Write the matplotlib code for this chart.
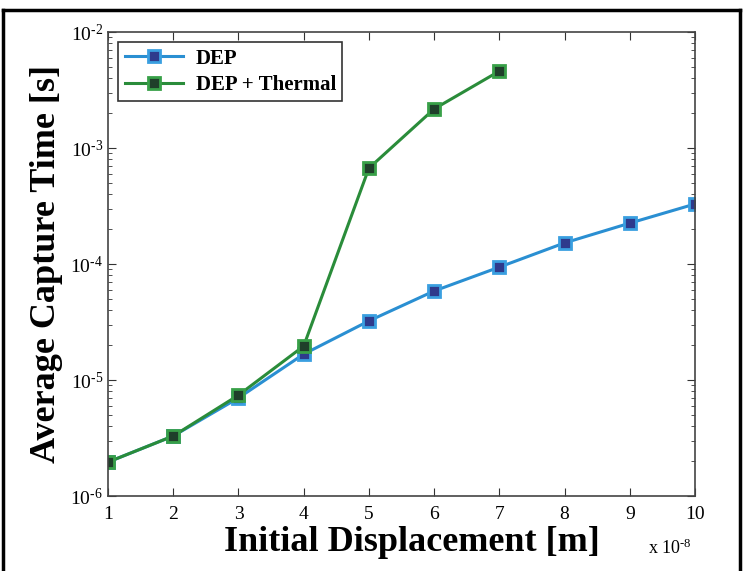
import matplotlib
matplotlib.use("Agg")
import matplotlib.pyplot as plt
from matplotlib.lines import Line2D
from matplotlib.ticker import LogLocator, NullFormatter, FuncFormatter
import math

x_dep = [1, 2, 3, 4, 5, 6, 7, 8, 9, 10]
y_dep = [1.96e-6, 3.29e-6, 7.0e-6, 1.67e-5, 3.23e-5, 5.85e-5, 9.4e-5, 1.52e-4, 2.25e-4, 3.29e-4]
x_th = [1, 2, 3, 4, 5, 6, 7]
y_th = [1.96e-6, 3.29e-6, 7.4e-6, 1.96e-5, 6.7e-4, 2.17e-3, 4.6e-3]
xticks = [1, 2, 3, 4, 5, 6, 7, 8, 9, 10]

HY = '\u2010'

plt.rcParams['font.family'] = ['Liberation Serif', 'DejaVu Serif']
plt.rcParams['mathtext.fontset'] = 'custom'
plt.rcParams['mathtext.rm'] = 'Liberation Serif'
plt.rcParams['mathtext.it'] = 'Liberation Serif'

fig = plt.figure(figsize=(7.43, 5.71), dpi=100)
ax = fig.add_axes([108/743, 1-496/571, (695-108)/743, (496-32)/571])

ax.plot(x_dep, y_dep, '-s', color='#2a8fd2', lw=2.2, ms=9,
        mfc='#2e3a8c', mec='#3a9fe0', mew=2, label='DEP')
ax.plot(x_th, y_th, '-s', color='#2a8c3a', lw=2.2, ms=9,
        mfc='#1f3f2a', mec='#38a048', mew=2, label='DEP + Thermal')

def yfmt(v, pos):
    e = int(round(math.log10(v)))
    return '$10^{\\mathrm{' + HY + str(-e) + '}}$'

ax.set_yscale('log')
ax.set_xlim(1, 10)
ax.set_ylim(1e-6, 1e-2)
ax.set_xticks(xticks)
ax.set_xticklabels([str(t) for t in xticks], fontsize=14)
ax.yaxis.set_major_locator(LogLocator(base=10, numticks=10))
ax.yaxis.set_major_formatter(FuncFormatter(yfmt))
ax.yaxis.set_minor_locator(LogLocator(base=10, subs=range(2, 10), numticks=10))
ax.yaxis.set_minor_formatter(NullFormatter())
ax.tick_params(which='both', direction='in', top=True, right=True, colors='#333333', labelcolor='black')
ax.tick_params(which='major', length=6, labelsize=14)
ax.tick_params(axis='x', pad=7)
ax.tick_params(which='minor', length=3)
for s in ax.spines.values():
    s.set_color('#444444')
    s.set_linewidth(1.2)

ax.set_xlabel('Initial Displacement [m]', fontsize=26, fontweight='bold', labelpad=3)
ax.set_ylabel('Average Capture Time [s]', fontsize=26, fontweight='bold', labelpad=5)
ax.xaxis.set_label_coords(0.517, -0.065, transform=ax.transAxes)
ax.xaxis.label.set_va('top')
fig.text(648/743, 1-548/571, 'x 10$^{\\mathrm{' + HY + '8}}$', fontsize=13, ha='left', va='center')

leg = ax.legend(loc='upper left', fontsize=15, frameon=True, fancybox=False,
                edgecolor='black', borderaxespad=0.5, handlelength=2.8,
                borderpad=0.3, labelspacing=0.3, handletextpad=0.6)
leg.get_frame().set_linewidth(1.2)
for t in leg.get_texts():
    t.set_fontweight('bold')

# figure border
fig.add_artist(Line2D([3/743, 3/743], [0, 1-10/571], color='black', lw=2.5))
fig.add_artist(Line2D([3/743, 740/743], [1-10/571, 1-10/571], color='black', lw=2.5))
fig.add_artist(Line2D([740/743, 740/743], [0, 1-10/571], color='black', lw=2.5))

fig.savefig('out.png', dpi=100)
